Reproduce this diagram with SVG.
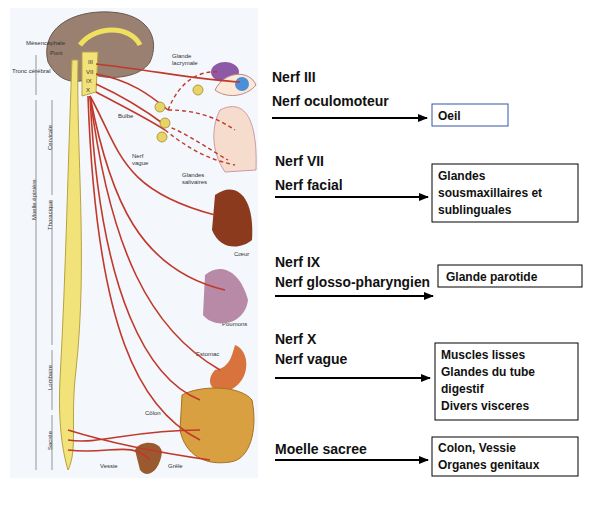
<svg xmlns="http://www.w3.org/2000/svg" width="602" height="514" viewBox="0 0 602 514">
<defs>
<marker id="ah" markerWidth="10" markerHeight="8" refX="9" refY="4" orient="auto" markerUnits="userSpaceOnUse"><path d="M0,0 L10,4 L0,8 z" fill="#000"/></marker>
<style>
.t{font-family:"Liberation Sans",Arial,sans-serif;font-weight:bold;fill:#111}
.h{font-size:14px}.b{font-size:12px}
.s{font-family:"Liberation Sans",Arial,sans-serif;font-size:6px;fill:#333}
.box{fill:#fff;stroke:#000;stroke-width:1}
.arr{stroke:#000;stroke-width:2;marker-end:url(#ah)}
.nv{fill:none;stroke:#c0392b;stroke-width:1.6}
.dn{fill:none;stroke:#c0392b;stroke-width:1.4;stroke-dasharray:4 3}
.g{fill:#e8d36a;stroke:#a08a20;stroke-width:0.8}
</style>
</defs>
<rect width="602" height="514" fill="#fff"/>
<rect x="10" y="8" width="248" height="470" fill="#f4f7fb"/>
<g id="illustration">
<path d="M48,62 C40,30 70,10 110,12 C150,14 160,40 150,62 C140,78 110,80 95,75 C80,85 60,85 48,62 z" fill="#9a8070" stroke="#6d574a"/>
<path d="M80,45 C95,25 130,25 140,45" fill="none" stroke="#f0e060" stroke-width="5"/>
<path d="M78,60 C76,150 88,260 76,370 C70,420 78,450 68,470 C62,450 58,420 60,380 C66,270 68,160 72,60 z" fill="#f2e27a" stroke="#b7a340"/>
<path d="M82,52 L98,52 L96,92 L82,96 z" fill="#f2e27a" stroke="#b7a340"/>
<text class="s" x="88" y="64" font-size="7">III</text><text class="s" x="86" y="74" font-size="7">VII</text><text class="s" x="86" y="83" font-size="7">IX</text><text class="s" x="86" y="92" font-size="7">X</text>
<text class="s" x="26" y="45">Mésencéphale</text><text class="s" x="50" y="55">Pont</text><text class="s" x="12" y="73">Tronc cérébral</text>
<text class="s" x="118" y="118">Bulbe</text><text class="s" x="132" y="158">Nerf</text><text class="s" x="132" y="165">vague</text>
<text class="s" x="172" y="58">Glande</text><text class="s" x="172" y="65">lacrymale</text>
<text class="s" x="182" y="177">Glandes</text><text class="s" x="182" y="184">salivaires</text>
<text class="s" x="234" y="256">Cœur</text><text class="s" x="222" y="326">Poumons</text><text class="s" x="196" y="356">Estomac</text>
<text class="s" x="145" y="415">Côlon</text><text class="s" x="100" y="468">Vessie</text><text class="s" x="168" y="468">Grêle</text>
<g transform="translate(36,220) rotate(-90)"><text class="s">Moelle épinière</text></g>
<g transform="translate(52,150) rotate(-90)"><text class="s">Cervicale</text></g>
<g transform="translate(52,230) rotate(-90)"><text class="s">Thoracique</text></g>
<g transform="translate(52,390) rotate(-90)"><text class="s">Lombaire</text></g>
<g transform="translate(52,450) rotate(-90)"><text class="s">Sacrée</text></g>
<path d="M36,55 V95 M36,100 V470 M52,100 V195 M52,200 V345 M52,350 V410 M52,415 V470" stroke="#555" stroke-width="0.6"/>
<ellipse cx="225" cy="72" rx="14" ry="10" fill="#8e5aa8"/>
<path d="M215,90 C225,70 250,70 256,85 C245,98 225,98 215,90 z" fill="#fde8d8" stroke="#b88"/>
<circle cx="242" cy="84" r="7" fill="#4a8fd8"/>
<path d="M220,110 C240,100 258,110 256,170 L225,172 C210,150 212,125 220,110 z" fill="#f6dccd" stroke="#c9a"/>
<path d="M215,195 C235,180 255,195 252,240 C240,250 220,250 212,230 z" fill="#8b3a1e"/>
<path d="M205,275 C220,262 240,270 248,300 C245,325 215,330 203,315 z" fill="#b989a8"/>
<path d="M235,345 C250,350 252,380 230,390 C210,395 205,380 215,370 C230,368 232,355 235,345 z" fill="#d9733d"/>
<path d="M182,395 C200,385 240,385 252,400 C258,430 250,460 230,462 C205,466 185,455 180,430 z" fill="#d8a040" stroke="#a87020"/>
<path d="M135,450 C140,440 160,440 162,452 C160,470 148,480 140,470 z" fill="#9a5a30"/>
<path class="nv" d="M96,64 C150,70 200,80 240,82"/>
<path class="nv" d="M96,74 C130,80 150,95 168,110"/>
<path class="nv" d="M96,84 C120,95 145,110 165,125"/>
<path class="nv" d="M96,92 C130,110 150,120 165,130"/>
<path class="nv" d="M90,96 C120,150 120,190 215,215"/>
<path class="nv" d="M90,96 C110,200 140,270 225,290"/>
<path class="nv" d="M90,96 C110,250 150,330 220,370"/>
<path class="nv" d="M90,96 C100,300 150,380 200,400"/>
<path class="nv" d="M88,96 C96,330 140,410 200,440"/>
<path class="nv" d="M68,430 C100,440 140,450 210,460 M68,440 C100,445 130,430 200,430 M68,450 C110,455 130,440 150,460"/>
<path class="dn" d="M168,110 C180,80 200,70 220,72 M168,110 C200,110 220,120 235,130 M165,125 C190,135 210,150 228,160 M165,130 C190,150 210,160 235,165"/>
<circle class="g" cx="198" cy="90" r="5"/><circle class="g" cx="160" cy="107" r="5"/><circle class="g" cx="165" cy="123" r="5"/><circle class="g" cx="162" cy="137" r="5"/>
</g>
<g id="n1"><text class="t h" x="272" y="82">Nerf III</text><text class="t h" x="272" y="106">Nerf oculomoteur</text>
<rect x="432" y="104" width="76" height="22" fill="#fff" stroke="#3355aa"/><text class="t b" x="438" y="120">Oeil</text></g>
<g id="n2"><text class="t h" x="275" y="166">Nerf VII</text><text class="t h" x="275" y="190">Nerf facial</text>
<rect class="box" x="432" y="164" width="146" height="58"/><text class="t b" x="438" y="180">Glandes</text><text class="t b" x="438" y="197">sousmaxillaires et</text><text class="t b" x="438" y="214">sublinguales</text></g>
<g id="n3"><text class="t h" x="275" y="267">Nerf IX</text><text class="t h" x="275" y="287" textLength="155" lengthAdjust="spacingAndGlyphs">Nerf glosso-pharyngien</text>
<rect class="box" x="438" y="265" width="144" height="22"/><text class="t b" x="446" y="281">Glande parotide</text></g>
<g id="n4"><text class="t h" x="275" y="344">Nerf X</text><text class="t h" x="275" y="364">Nerf vague</text>
<rect class="box" x="435" y="343" width="143" height="77"/><text class="t b" x="441" y="359">Muscles lisses</text><text class="t b" x="441" y="376">Glandes du tube</text><text class="t b" x="441" y="393">digestif</text><text class="t b" x="441" y="410">Divers visceres</text></g>
<g id="n5"><text class="t h" x="275" y="454">Moelle sacree</text>
<rect class="box" x="432" y="437" width="146" height="39"/><text class="t b" x="438" y="452">Colon, Vessie</text><text class="t b" x="438" y="469">Organes genitaux</text></g>
<g id="connectors">
<line class="arr" x1="272" y1="118" x2="427" y2="118"/>
<line class="arr" x1="275" y1="197" x2="428" y2="197"/>
<line class="arr" x1="275" y1="296" x2="433" y2="296"/>
<line class="arr" x1="275" y1="378" x2="430" y2="378"/>
<line class="arr" x1="275" y1="460" x2="428" y2="460"/>
</g>
</svg>
